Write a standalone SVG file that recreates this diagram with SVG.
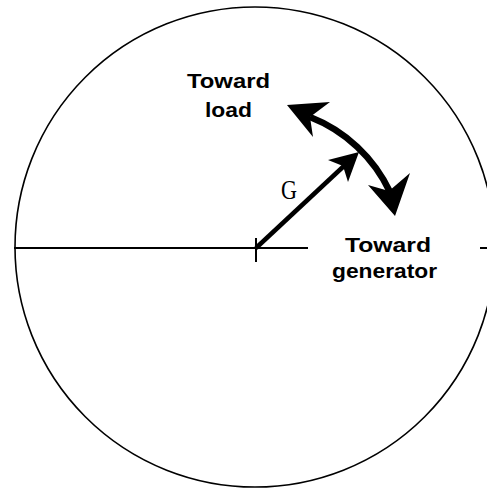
<svg xmlns="http://www.w3.org/2000/svg" width="487" height="490" viewBox="0 0 487 490">
<style>
.thin{fill:none;stroke:#000;stroke-width:1.6}
.axis{fill:none;stroke:#000;stroke-width:2}
.vec{fill:none;stroke:#000;stroke-width:4.5}
.arc{fill:none;stroke:#000;stroke-width:6.5}
.head{fill:#000;stroke:none}
.lbl{font-family:"Liberation Sans",Arial,sans-serif;font-weight:bold;font-size:20px;fill:#000}
.g{font-family:"Liberation Serif","Times New Roman",serif;font-size:27px;fill:#000}
</style>
<rect width="487" height="490" fill="#fff"/>
<g id="chart">
<circle class="thin" cx="255" cy="247" r="240"/>
<line class="axis" x1="14" y1="248" x2="308" y2="248"/>
<line class="axis" x1="480" y1="248" x2="487" y2="248"/>
<line class="axis" x1="256" y1="238" x2="256" y2="262"/>
</g>
<g id="connectors">
<g id="vectorG">
<line class="vec" x1="256" y1="248" x2="345" y2="165"/>
<path class="head" d="M359,152 L328,160 L343,166 L348,182 Z"/>
</g>
<g id="rotation">
<path class="arc" d="M310,117 A148,148 0 0 1 390,192"/>
<path class="head" d="M287,105 L330,102 L310,117 L313,137 Z"/>
<path class="head" d="M395,216 L368,185 L389,191 L410,173 Z"/>
</g>
</g>
<g id="labelG"><text class="g" x="281" y="199" textLength="16" lengthAdjust="spacingAndGlyphs">G</text></g>
<g id="towardLoad">
<text class="lbl" x="187" y="88" textLength="83" lengthAdjust="spacingAndGlyphs">Toward</text>
<text class="lbl" x="205" y="117" textLength="47" lengthAdjust="spacingAndGlyphs">load</text>
</g>
<g id="towardGenerator">
<text class="lbl" x="345" y="252" textLength="86" lengthAdjust="spacingAndGlyphs">Toward</text>
<text class="lbl" x="332" y="278" textLength="105" lengthAdjust="spacingAndGlyphs">generator</text>
</g>
</svg>
